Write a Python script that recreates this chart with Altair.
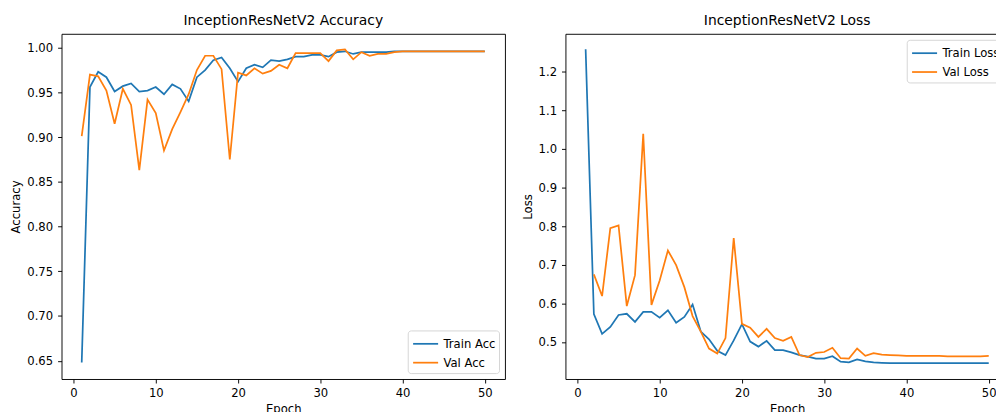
import altair as alt
import pandas as pd
import numpy as np

epochs = list(range(1, 51))

train_acc = [0.648, 0.956, 0.973, 0.967, 0.951, 0.957, 0.960, 0.951, 0.952, 0.956,
             0.948, 0.959, 0.954, 0.940, 0.967, 0.975, 0.986, 0.989, 0.977, 0.962,
             0.977, 0.981, 0.978, 0.986, 0.985, 0.987, 0.990, 0.990, 0.992, 0.992,
             0.990, 0.995, 0.996, 0.993, 0.995, 0.995, 0.995, 0.995, 0.996, 0.996,
             0.996, 0.996, 0.996, 0.996, 0.996, 0.996, 0.996, 0.996, 0.996, 0.996]
val_acc = [0.901, 0.970, 0.968, 0.952, 0.915, 0.954, 0.936, 0.863, 0.942, 0.927,
           0.885, 0.909, 0.928, 0.948, 0.975, 0.991, 0.991, 0.976, 0.875, 0.972,
           0.969, 0.977, 0.971, 0.974, 0.981, 0.977, 0.994, 0.994, 0.994, 0.994,
           0.985, 0.997, 0.998, 0.987, 0.995, 0.991, 0.993, 0.993, 0.995, 0.996,
           0.996, 0.996, 0.996, 0.996, 0.996, 0.996, 0.996, 0.996, 0.996, 0.996]
train_loss = [1.258, 0.572, 0.521, 0.539, 0.570, 0.573, 0.552, 0.578, 0.578, 0.563,
              0.582, 0.550, 0.565, 0.597, 0.527, 0.507, 0.477, 0.466, 0.504, 0.546,
              0.501, 0.488, 0.503, 0.479, 0.479, 0.473, 0.466, 0.462, 0.457, 0.457,
              0.463, 0.449, 0.447, 0.455, 0.450, 0.447, 0.446, 0.445, 0.445, 0.445,
              0.445, 0.445, 0.445, 0.445, 0.445, 0.445, 0.445, 0.445, 0.445, 0.445]
val_loss = [None, 0.675, 0.619, 0.795, 0.802, 0.593, 0.673, 1.039, 0.596, 0.659,
            0.737, 0.699, 0.642, 0.567, 0.527, 0.483, 0.470, 0.510, 0.769, 0.547,
            0.537, 0.513, 0.534, 0.510, 0.503, 0.513, 0.466, 0.461, 0.472, 0.474,
            0.485, 0.458, 0.457, 0.483, 0.464, 0.471, 0.467, 0.466, 0.465, 0.464,
            0.464, 0.464, 0.464, 0.464, 0.463, 0.463, 0.463, 0.463, 0.463, 0.464]

x_ticks = [0, 10, 20, 30, 40, 50]
acc_ticks = [0.65, 0.70, 0.75, 0.80, 0.85, 0.90, 0.95, 1.00]
loss_ticks = [0.5, 0.6, 0.7, 0.8, 0.9, 1.0, 1.1, 1.2]

BLUE = "#1f77b4"
ORANGE = "#ff7f0e"
FONT = "DejaVu Sans"


def long_df(a, b, na, nb):
    rows = []
    for e, v in zip(epochs, a):
        if v is not None:
            rows.append({"Epoch": e, "value": v, "series": na})
    for e, v in zip(epochs, b):
        if v is not None:
            rows.append({"Epoch": e, "value": v, "series": nb})
    return pd.DataFrame(rows)


acc_df = long_df(train_acc, val_acc, "Train Acc", "Val Acc")
loss_df = long_df(train_loss, val_loss, "Train Loss", "Val Loss")

xscale = alt.Scale(domain=[-1.45, 52.45], nice=False, zero=False)


def panel(df, names, ydom, yticks, yfmt, ytitle, title, legend_orient):
    return alt.Chart(df).mark_line(strokeWidth=1.75, clip=True).encode(
        x=alt.X("Epoch:Q", scale=xscale,
                axis=alt.Axis(values=x_ticks, format="d", title="Epoch",
                              titlePadding=4)),
        y=alt.Y("value:Q", scale=alt.Scale(domain=ydom, nice=False, zero=False),
                axis=alt.Axis(values=yticks, format=yfmt, title=ytitle,
                              titlePadding=5)),
        color=alt.Color("series:N",
                        scale=alt.Scale(domain=names, range=[BLUE, ORANGE]),
                        legend=alt.Legend(title=None, orient=legend_orient,
                                          offset=6,
                                          symbolType="M-1.4,0H1.4",
                                          symbolSize=324, symbolStrokeWidth=1.75,
                                          symbolOffset=4.5,
                                          labelFontSize=11.7, labelFont=FONT,
                                          labelColor="black", labelOffset=8,
                                          padding=3.5, rowPadding=2,
                                          strokeColor="#d6d6d6", fillColor="white",
                                          cornerRadius=3)),
        order="Epoch:Q",
    ).properties(width=447, height=348,
                 title=alt.Title(title, fontSize=14, font=FONT, fontWeight="normal",
                                 color="black", offset=6))


left = panel(acc_df, ["Train Acc", "Val Acc"], [0.6295, 1.0155], acc_ticks, ".2f",
             "Accuracy", "InceptionResNetV2 Accuracy", "bottom-right")
right = panel(loss_df, ["Train Loss", "Val Loss"], [0.404, 1.298], loss_ticks, ".1f",
              "Loss", "InceptionResNetV2 Loss", "top-right")

PL, PT = 54, 23
chart = alt.hconcat(left, right, spacing=15).resolve_scale(
    color="independent").resolve_legend(color="independent").properties(
    autosize=alt.AutoSizeParams(type="none"),
    padding={"left": PL, "top": PT, "right": 996 - PL, "bottom": 404 - PT}
).configure(background="white").configure_view(
    stroke="black", strokeWidth=0.95
).configure_axis(
    domain=False, grid=False, tickColor="black", tickSize=4, tickWidth=0.95,
    labelFont=FONT, labelFontSize=11.7, labelColor="black", labelPadding=5,
    titleFont=FONT, titleFontSize=11.7, titleFontWeight="normal", titleColor="black",
)

chart.save("out.html", embed_options={"renderer": "svg", "actions": False})
